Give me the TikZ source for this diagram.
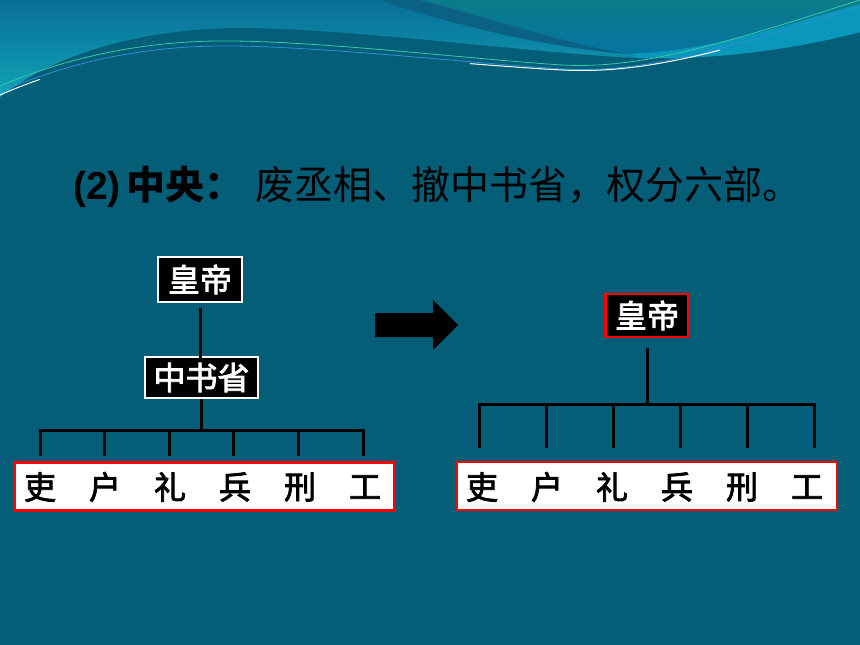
\documentclass[tikz,border=0pt]{standalone}
\usepackage{fontspec}
\setmainfont{Noto Sans CJK SC}
\newfontfamily\cjkmid[FakeBold=2.5]{Noto Sans CJK SC}
\newfontfamily\latinbf{Liberation Sans}
\usepackage{tikz}
\usetikzlibrary{positioning}
\usepackage{xcolor}

\definecolor{slidebg}{HTML}{055E78}
\definecolor{wavetop}{HTML}{096E97}
\definecolor{wavelow}{HTML}{10A4B7}
\definecolor{waveband}{HTML}{0A6184}
\definecolor{wavegreen}{HTML}{0B7C88}
\definecolor{waveblue}{HTML}{0674A2}
\definecolor{wavecyan}{HTML}{0A98BA}
\definecolor{lineblue}{HTML}{2A8FD8}
\definecolor{linegreen}{HTML}{38C8A8}

\begin{document}
\begin{tikzpicture}[x=1pt,y=-1pt,line cap=rect,
    oldbox/.style={draw=white,line width=1.5pt,fill=black,text=white,inner sep=0pt,
        font=\fontsize{32}{36}\cjkmid},
    newbox/.style={oldbox,draw=red,line width=2.5pt},
    deptbox/.style={draw=red,line width=2.5pt,fill=white,minimum width=380pt,minimum height=48pt},
    dept/.style={text=black,inner sep=0pt,font=\fontsize{32}{36}\cjkmid},
    link/.style={line width=3pt}]
            % draw the slide background
            \fill[slidebg] (0,0) rectangle (860,645);
            \useasboundingbox (0,0) rectangle (860,645);

            % draw the waves at the top
            \shade[top color=wavetop, bottom color=wavelow] (0,0) -- (860,0) -- (860,32)
                .. controls (800,48) and (720,60) .. (640,58)
                .. controls (550,55) and (350,28) .. (243,28)
                .. controls (150,28) and (60,50) .. (0,97) -- cycle;
            \fill[waveband] (380,0) .. controls (450,25) and (560,50) .. (630,54)
                .. controls (570,45) and (480,15) .. (420,0) -- cycle;
            \shade[top color=wavegreen, bottom color=waveblue] (420,0)
                .. controls (480,15) and (570,45) .. (630,54)
                .. controls (720,50) and (800,20) .. (860,4) -- (860,0) -- cycle;
            \fill[wavecyan] (630,54) .. controls (720,50) and (800,20) .. (860,4) -- (860,32)
                .. controls (800,48) and (720,60) .. (640,58) -- cycle;

            % thin lines under the waves
            \draw[linegreen,line width=0.8pt] (0,86) .. controls (80,52) and (160,40) .. (233,41)
                .. controls (330,42) and (480,60) .. (563,65) .. controls (640,69) and (720,45) .. (860,0);
            \draw[lineblue,line width=0.8pt] (0,92) .. controls (80,57) and (160,45) .. (233,46)
                .. controls (330,47) and (480,64) .. (563,69) .. controls (640,73) and (720,52) .. (860,6);
            \begin{scope}
                \clip (0,0) rectangle (40,110) (470,0) rectangle (720,110);
                \draw[white,line width=1pt] (0,95) .. controls (80,60) and (160,48) .. (233,49)
                    .. controls (330,50) and (480,66) .. (563,70) .. controls (640,74) and (720,54) .. (860,8);
            \end{scope}

            % title
            \node[anchor=base west,inner sep=0pt,font=\fontsize{39}{43}\selectfont] (title) at (73,199)
                {{\latinbf\bfseries (2)}\hspace{6pt}{\bfseries 中央：}\hspace{12pt}废丞相、撤中书省，权分六部。};

            % the old chart
            \node[oldbox,minimum width=84pt,minimum height=45pt] (emp1) at (200,279.5) {皇帝};
            \node[oldbox,minimum width=113pt,minimum height=41pt] (zsx) at (201.5,377.5) {中书省};
            \node[deptbox] (old) at (204.5,486.5) {};
            \coordinate (bar1) at (201.5,430);
            \draw[link,shorten <=7pt] (emp1.south) -- (emp1.south |- zsx.north);
            \draw[link,shorten <=2pt] (zsx.south) -- (bar1);
            \foreach \i in {1,...,6} {
                \coordinate (top1\i) at ({40+64.6*(\i-1)},430);
                \coordinate (end1\i) at ({40+64.6*(\i-1)},454);
                \draw[link] (top1\i) -- (end1\i);
            }
            \draw[link] (top11) -- (top16);

            % arrow
            \fill[black] (375,313) -- (433,313) -- (433,300) -- (458,325) -- (433,350)
                -- (433,337) -- (375,337) -- cycle;

            % the new chart
            \node[newbox,minimum width=83pt,minimum height=43pt] (emp2) at (647,315.5) {皇帝};
            \node[deptbox] (new) at (647,486) {};
            \coordinate (bar2) at (647,404);
            \draw[link,shorten <=11pt] (emp2.south) -- (bar2);
            \foreach \i in {1,...,6} {
                \coordinate (top2\i) at ({479+67*(\i-1)},404);
                \coordinate (end2\i) at ({479+67*(\i-1)},446);
                \draw[link] (top2\i) -- (end2\i);
            }
            \draw[link] (top21) -- (top26);

            % the six departments
            \foreach \c [count=\i] in {吏,户,礼,兵,刑,工} {
                \node[dept] (old\i) at ({40+65*(\i-1)},487) {\c};
                \node[dept] (new\i) at ({482+65*(\i-1)},487) {\c};
            }
        \end{tikzpicture}
\end{document}
